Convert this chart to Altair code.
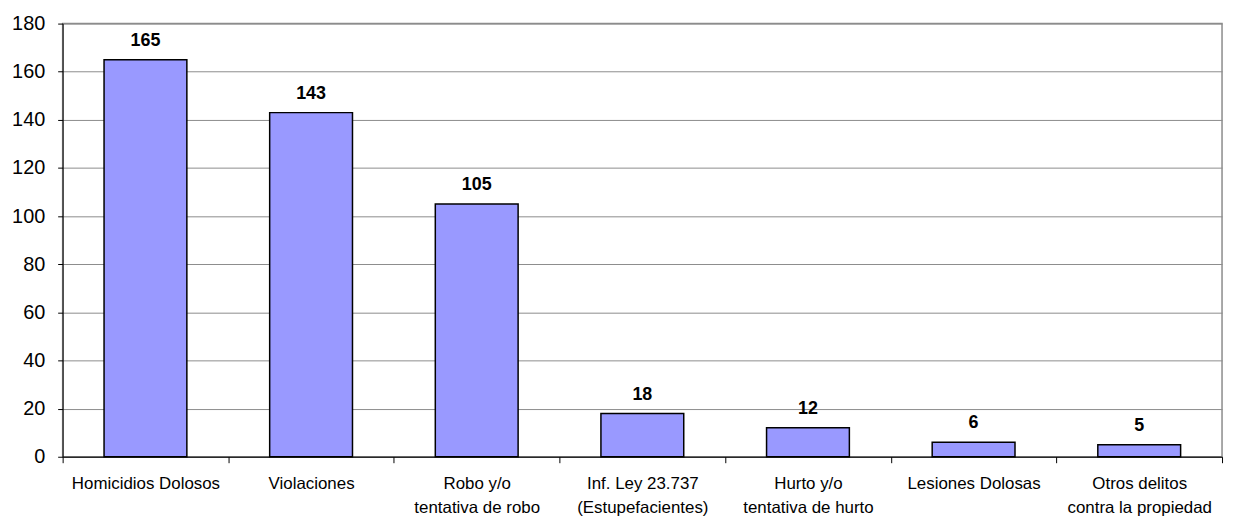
import altair as alt
import pandas as pd

categories = [
    "Homicidios Dolosos",
    "Violaciones",
    "Robo y/o|tentativa de robo",
    "Inf. Ley 23.737|(Estupefacientes)",
    "Hurto y/o|tentativa de hurto",
    "Lesiones Dolosas",
    "Otros delitos|contra la propiedad",
]
values = [165, 143, 105, 18, 12, 6, 5]

df = pd.DataFrame({"cat": categories, "val": values})

FONT = "Liberation Sans"

x = alt.X(
    "cat:N",
    sort=None,
    title=None,
    scale=alt.Scale(paddingInner=0, paddingOuter=0),
    axis=alt.Axis(
        labelAngle=0,
        labelExpr="split(datum.label, '|')",
        labelFont=FONT,
        labelFontSize=17,
        labelColor="black",
        labelLineHeight=24,
        labelPadding=13,
        labelBaseline="top",
        labelOverlap=False,
        labelBound=False,
        tickBand="extent",
        tickColor="black",
        tickSize=6,
        domainColor="black",
        domainWidth=1,
        grid=False,
    ),
)
y = alt.Y(
    "val:Q",
    title=None,
    scale=alt.Scale(domain=[0, 180], nice=False),
    axis=alt.Axis(
        values=list(range(0, 181, 20)),
        labelFont=FONT,
        labelFontSize=20,
        labelColor="black",
        labelPadding=13,
        tickColor="black",
        tickSize=5,
        domainColor="black",
        gridColor="#8c8c8c",
        gridWidth=1,
    ),
)

bars = alt.Chart(df).mark_bar(
    color="#9999FF", stroke="black", strokeWidth=1.5,
    width=alt.RelativeBandSize(0.5),
).encode(x=x, y=y)

labels = alt.Chart(df).mark_text(
    font=FONT, fontSize=18, fontWeight="bold", baseline="bottom", dy=-10, color="black"
).encode(x=alt.X("cat:N", sort=None), y="val:Q", text="val:Q")

chart = (
    alt.layer(bars, labels)
    .properties(
        width=1167,
        height=436,
        padding={"left": 55, "top": 14, "right": 5, "bottom": 64},
        autosize=alt.AutoSizeParams(type="none"),
    )
    .configure_view(stroke="#8c8c8c", strokeWidth=1.5)
)

chart.save("out.html", embed_options={"renderer": "svg", "actions": False})
